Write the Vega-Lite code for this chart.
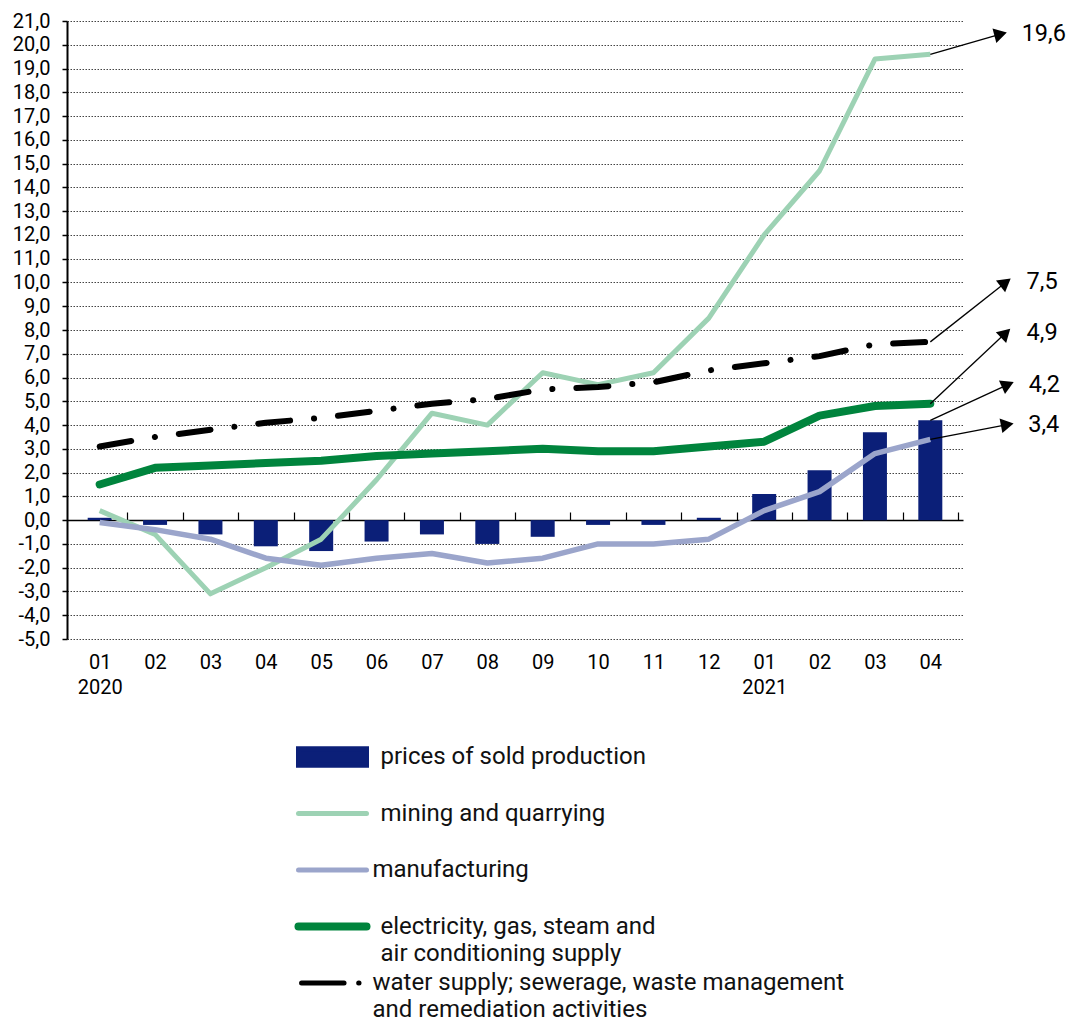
{
  "$schema": "https://vega.github.io/schema/vega-lite/v6.json",
  "width": 896,
  "height": 618,
  "autosize": {"type": "none"},
  "padding": {"left": 67, "top": 21, "right": 109, "bottom": 386},
  "background": "white",
  "config": {"font": "Roboto", "view": {"stroke": null}},
  "datasets": {
    "main": [
      {"t": 1, "prices": 0.1, "mining": 0.4, "manufacturing": -0.1, "electricity": 1.5, "water": 3.1},
      {"t": 2, "prices": -0.2, "mining": -0.6, "manufacturing": -0.4, "electricity": 2.2, "water": 3.5},
      {"t": 3, "prices": -0.6, "mining": -3.1, "manufacturing": -0.8, "electricity": 2.3, "water": 3.8},
      {"t": 4, "prices": -1.1, "mining": -2.0, "manufacturing": -1.6, "electricity": 2.4, "water": 4.1},
      {"t": 5, "prices": -1.3, "mining": -0.8, "manufacturing": -1.9, "electricity": 2.5, "water": 4.3},
      {"t": 6, "prices": -0.9, "mining": 1.7, "manufacturing": -1.6, "electricity": 2.7, "water": 4.6},
      {"t": 7, "prices": -0.6, "mining": 4.5, "manufacturing": -1.4, "electricity": 2.8, "water": 4.9},
      {"t": 8, "prices": -1.0, "mining": 4.0, "manufacturing": -1.8, "electricity": 2.9, "water": 5.1},
      {"t": 9, "prices": -0.7, "mining": 6.2, "manufacturing": -1.6, "electricity": 3.0, "water": 5.5},
      {"t": 10, "prices": -0.2, "mining": 5.7, "manufacturing": -1.0, "electricity": 2.9, "water": 5.6},
      {"t": 11, "prices": -0.2, "mining": 6.2, "manufacturing": -1.0, "electricity": 2.9, "water": 5.8},
      {"t": 12, "prices": 0.1, "mining": 8.5, "manufacturing": -0.8, "electricity": 3.1, "water": 6.3},
      {"t": 13, "prices": 1.1, "mining": 12.0, "manufacturing": 0.4, "electricity": 3.3, "water": 6.6},
      {"t": 14, "prices": 2.1, "mining": 14.7, "manufacturing": 1.2, "electricity": 4.4, "water": 6.9},
      {"t": 15, "prices": 3.7, "mining": 19.4, "manufacturing": 2.8, "electricity": 4.8, "water": 7.4},
      {"t": 16, "prices": 4.2, "mining": 19.6, "manufacturing": 3.4, "electricity": 4.9, "water": 7.5}
    ],
    "notes": [
      {"label": "19,6", "t": 16, "v": 19.6, "t2": 17.27, "v2": 20.45},
      {"label": "7,5", "t": 16, "v": 7.5, "t2": 17.36, "v2": 10.0},
      {"label": "4,9", "t": 16, "v": 4.9, "t2": 17.36, "v2": 7.87},
      {"label": "4,2", "t": 16, "v": 4.2, "t2": 17.40, "v2": 5.70},
      {"label": "3,4", "t": 16, "v": 3.4, "t2": 17.39, "v2": 4.02}
    ]
  },
  "data": {"name": "main"},
  "resolve": {"axis": {"x": "independent"}},
  "layer": [
    {
      "mark": {"type": "bar", "orient": "vertical", "size": 24},
      "encoding": {
        "x": {
          "field": "t", "type": "quantitative",
          "scale": {"domain": [0.5, 16.5], "nice": false, "zero": false},
          "axis": {
            "orient": "bottom", "values": [1,2,3,4,5,6,7,8,9,10,11,12,13,14,15,16], "tickCount": 40,
            "domain": false, "ticks": false, "grid": false, "title": null,
            "labelPadding": 13, "labelFontSize": 20, "labelColor": "#000", "labelLineHeight": 25,
            "labelOverlap": false, "labelFlush": false, "labelBound": false,
            "labelExpr": "datum.value == 1 ? ['01', '2020'] : datum.value == 13 ? ['01', '2021'] : ((((datum.value - 1) % 12) + 1) < 10 ? '0' : '') + (((datum.value - 1) % 12) + 1)"
          }
        },
        "y": {
          "field": "prices", "type": "quantitative",
          "scale": {"domain": [-5, 21], "nice": false, "zero": false},
          "axis": {
            "values": [-5,-4,-3,-2,-1,0,1,2,3,4,5,6,7,8,9,10,11,12,13,14,15,16,17,18,19,20,21],
            "tickCount": 60,
            "labelExpr": "datum.value + ',0'", "title": null,
            "domainColor": "#000", "domainWidth": 2,
            "tickColor": "#000", "tickSize": 5, "tickWidth": 1.5,
            "labelFontSize": 20, "labelColor": "#000", "labelPadding": 12,
            "labelOverlap": false, "labelFlush": false, "labelBound": false,
            "grid": true, "gridColor": "#444", "gridDash": [1.5, 1.5], "gridWidth": 1
          }
        },
        "y2": {"datum": 0},
        "color": {
          "datum": "prices of sold production",
          "scale": {
            "domain": ["prices of sold production", "mining and quarrying", "manufacturing", "electricity, gas, steam and air conditioning supply", "water supply; sewerage, waste management and remediation activities"],
            "range": ["#0b1f78", "#9dd2b4", "#9ba5cb", "#00843d", "#000000"]
          },
          "legend": {
            "orient": "none", "legendX": 253.5, "legendY": 724, "direction": "vertical",
            "title": null, "padding": 0, "rowPadding": 1.5, "gridAlign": "all",
            "symbolSize": 4624, "symbolStrokeWidth": 0, "symbolOffset": 0,
            "labelOffset": 36, "labelFontSize": 24, "labelColor": "#111", "labelLimit": 800,
            "labelExpr": "datum.label === 'electricity, gas, steam and air conditioning supply' ? ['electricity, gas, steam and', 'air conditioning supply'] : datum.label === 'water supply; sewerage, waste management and remediation activities' ? ['water supply; sewerage, waste management', 'and remediation activities'] : datum.label",
            "encode": {
              "symbols": {
                "update": {
                  "shape": {"signal": "datum.value === 'prices of sold production' ? 'M-1,-0.24H1V0.24H-1Z' : (datum.value === 'water supply; sewerage, waste management and remediation activities' ? 'M-0.91,0H0.34M0.77,0H0.78' : 'M-1,0H1')"},
                  "size": {"value": 4624},
                  "fill": {"signal": "datum.value === 'prices of sold production' ? scale('color', datum.value) : 'transparent'"},
                  "stroke": {"signal": "datum.value === 'prices of sold production' ? 'transparent' : scale('color', datum.value)"},
                  "strokeWidth": {"signal": "datum.value === 'electricity, gas, steam and air conditioning supply' ? 8 : 5"},
                  "strokeCap": {"value": "round"},
                  "strokeDash": {"value": []},
                  "opacity": {"value": 1}
                }
              },
              "labels": {
                "update": {
                  "dx": {"signal": "datum.value === 'manufacturing' || datum.value === 'water supply; sewerage, waste management and remediation activities' ? -8 : 0"},
                  "lineHeight": {"value": 27}
                }
              }
            }
          }
        }
      }
    },
    {
      "mark": {"type": "line", "strokeWidth": 5, "strokeJoin": "round", "strokeCap": "butt"},
      "encoding": {
        "x": {
          "field": "t", "type": "quantitative",
          "scale": {"domain": [0.5, 16.5], "nice": false, "zero": false},
          "axis": {
            "orient": "bottom", "offset": -119, "tickCount": 40,
            "values": [1.5,2.5,3.5,4.5,5.5,6.5,7.5,8.5,9.5,10.5,11.5,12.5,13.5,14.5,15.5,16.5],
            "domain": true, "domainColor": "#000", "domainWidth": 1.5,
            "ticks": true, "tickSize": -8, "tickColor": "#000", "tickWidth": 1.2,
            "labels": false, "grid": false, "title": null
          }
        },
        "y": {"field": "mining", "type": "quantitative", "scale": {"domain": [-5, 21], "nice": false, "zero": false}},
        "color": {"datum": "mining and quarrying"}
      }
    },
    {
      "mark": {"type": "line", "strokeWidth": 5.5, "strokeJoin": "round", "strokeCap": "butt"},
      "encoding": {
        "x": {"field": "t", "type": "quantitative", "scale": {"domain": [0.5, 16.5], "nice": false, "zero": false}, "axis": null},
        "y": {"field": "manufacturing", "type": "quantitative", "scale": {"domain": [-5, 21], "nice": false, "zero": false}},
        "color": {"datum": "manufacturing"}
      }
    },
    {
      "mark": {"type": "line", "strokeWidth": 8, "strokeJoin": "round", "strokeCap": "round"},
      "encoding": {
        "x": {"field": "t", "type": "quantitative", "scale": {"domain": [0.5, 16.5], "nice": false, "zero": false}, "axis": null},
        "y": {"field": "electricity", "type": "quantitative", "scale": {"domain": [-5, 21], "nice": false, "zero": false}},
        "color": {"datum": "electricity, gas, steam and air conditioning supply"}
      }
    },
    {
      "mark": {"type": "line", "strokeWidth": 6, "strokeJoin": "round", "strokeCap": "round", "strokeDash": [32, 24, 0.1, 24]},
      "encoding": {
        "x": {"field": "t", "type": "quantitative", "scale": {"domain": [0.5, 16.5], "nice": false, "zero": false}, "axis": null},
        "y": {"field": "water", "type": "quantitative", "scale": {"domain": [-5, 21], "nice": false, "zero": false}},
        "color": {"datum": "water supply; sewerage, waste management and remediation activities"}
      }
    },
    {
      "data": {"name": "notes"},
      "mark": {"type": "rule", "color": "#000", "strokeWidth": 1.3},
      "encoding": {
        "x": {"field": "t", "type": "quantitative", "scale": {"domain": [0.5, 16.5], "nice": false, "zero": false}, "axis": null},
        "y": {"field": "v", "type": "quantitative", "scale": {"domain": [-5, 21], "nice": false, "zero": false}},
        "x2": {"field": "t2"},
        "y2": {"field": "v2"}
      }
    },
    {
      "data": {"name": "notes"},
      "mark": {"type": "point", "shape": "triangle-right", "filled": true, "color": "#000", "size": 220, "opacity": 1},
      "encoding": {
        "x": {"field": "t2", "type": "quantitative", "scale": {"domain": [0.5, 16.5], "nice": false, "zero": false}, "axis": null},
        "y": {"field": "v2", "type": "quantitative", "scale": {"domain": [-5, 21], "nice": false, "zero": false}},
        "angle": {
          "field": "label", "type": "nominal",
          "scale": {"type": "ordinal", "domain": ["19,6", "7,5", "4,9", "4,2", "3,4"], "range": [345, 322, 316, 336, 349]},
          "legend": null
        }
      }
    },
    {
      "data": {"name": "notes"},
      "mark": {"type": "text", "align": "left", "baseline": "middle", "dx": 21, "fontSize": 23.5, "color": "#000"},
      "encoding": {
        "x": {"field": "t2", "type": "quantitative", "scale": {"domain": [0.5, 16.5], "nice": false, "zero": false}, "axis": null},
        "y": {"field": "v2", "type": "quantitative", "scale": {"domain": [-5, 21], "nice": false, "zero": false}},
        "text": {"field": "label"}
      }
    }
  ]
}
